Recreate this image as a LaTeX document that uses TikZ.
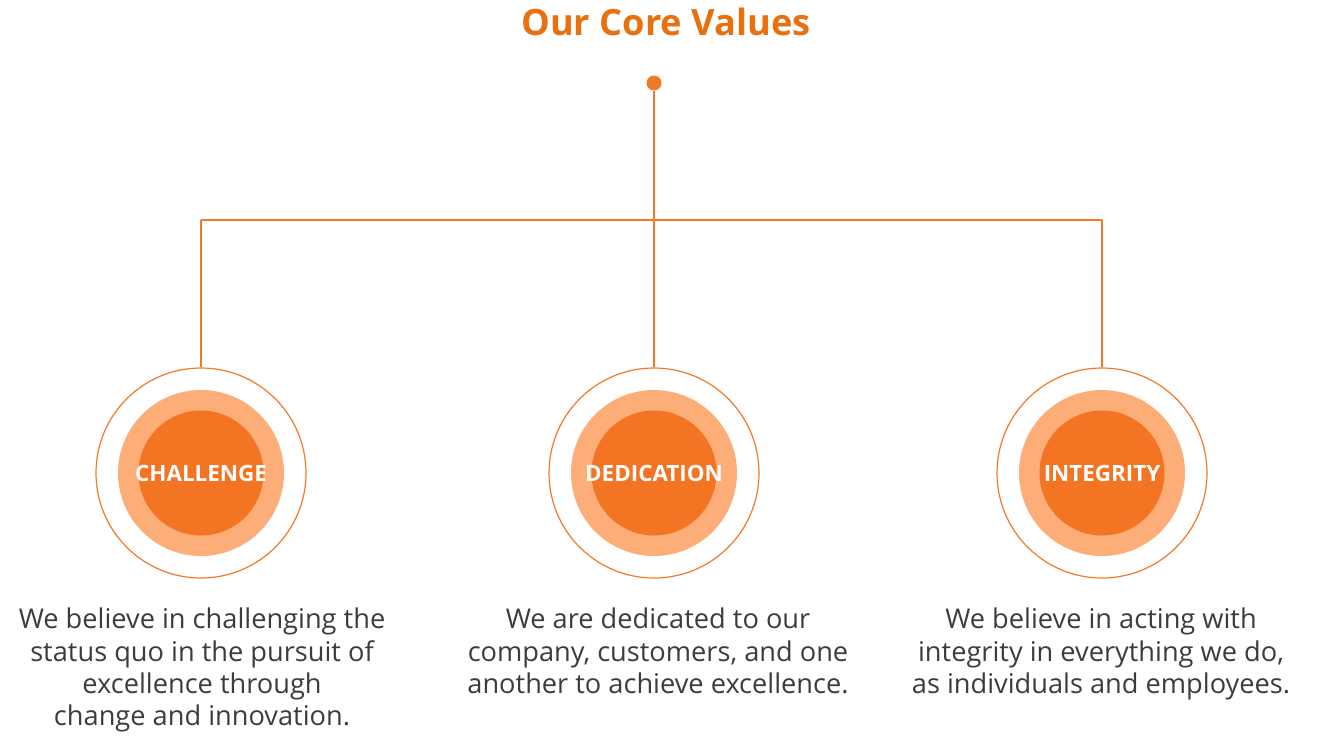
\documentclass[tikz,border=0pt]{standalone}
\usepackage{fontspec}
\setmainfont{Open Sans}
\usetikzlibrary{positioning}

\definecolor{coretitle}{HTML}{E8700F}
\definecolor{coreline}{HTML}{EE7A2A}
\definecolor{coredark}{HTML}{F37422}
\definecolor{corelight}{HTML}{FDAE78}
\definecolor{coretext}{HTML}{3C3C3C}

\begin{document}
\begin{tikzpicture}[x=0.5pt,y=-0.5pt,
        outerring/.style={circle,draw=coreline,line width=0.6pt,fill=white,minimum size=105pt,inner sep=0pt},
        midring/.style={circle,fill=corelight,minimum size=83pt,inner sep=0pt},
        innerdisc/.style={circle,fill=coredark,minimum size=62.5pt,inner sep=0pt},
        valuename/.style={text=white,inner sep=0pt,font=\fontsize{11.2}{12}\selectfont\bfseries},
        blurb/.style={align=center,text=coretext,font=\fontsize{13.6}{16.2}\selectfont},
        link/.style={draw=coreline,line width=0.6pt}]
    \useasboundingbox (0,0) rectangle (1324,735);

    \node[text=coretitle,font=\fontsize{18.1}{20}\selectfont\bfseries] (title) at (666,22) {Our Core Values};
    \node[circle,fill=coreline,minimum size=7.5pt,inner sep=0pt] (root) at (654,83) {};

    % the three values
    \begin{scope}
        \node[outerring] (ch) at (201,473) {};
        \node[midring] at (ch) {};
        \node[innerdisc] at (ch) {};
        \node[valuename] (chal) at (ch) {CHALLENGE};

        \node[outerring] (de) at (654,473) {};
        \node[midring] at (de) {};
        \node[innerdisc] at (de) {};
        \node[valuename] (dedi) at (de) {DEDICATION};

        \node[outerring] (in) at (1102,473) {};
        \node[midring] at (in) {};
        \node[innerdisc] at (in) {};
        \node[valuename] (inte) at (in) {INTEGRITY};
    \end{scope}

    % tree
    \coordinate (split) at (654,220);
    \coordinate (leftc) at (201,220);
    \coordinate (rightc) at (1102,220);
    \path[link] (root) -- (split);
    \path[link] (leftc) -- (rightc);
    \path[link] (leftc) -- (ch.north);
    \path[link] (split) -- (de.north);
    \path[link] (rightc) -- (in.north);

    % descriptions
    \node[blurb,anchor=north] (chtext) at (202,601) {We believe in challenging the\\status quo in the pursuit of\\excellence through\\change and innovation.};
    \node[blurb,anchor=north] (detext) at (658,601) {We are dedicated to our\\company, customers, and one\\another to achieve excellence.};
    \node[blurb,anchor=north] (intext) at (1101,601) {We believe in acting with\\integrity in everything we do,\\as individuals and employees.};
\end{tikzpicture}
\end{document}
